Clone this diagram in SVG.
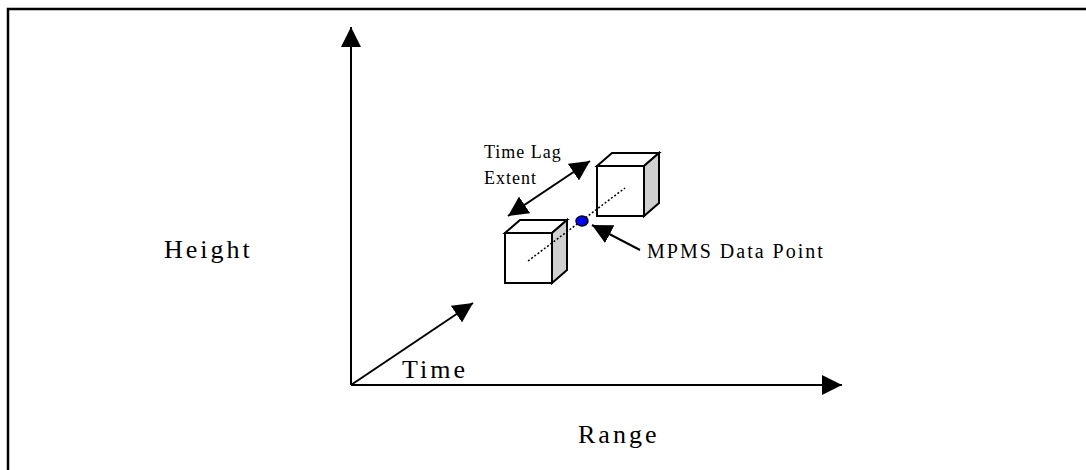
<svg xmlns="http://www.w3.org/2000/svg" width="1086" height="470" viewBox="0 0 1086 470">
<style>
.t{font-family:"Liberation Serif","Times New Roman",serif;fill:#000}
.big{font-size:26px;letter-spacing:3px}
.sm{font-size:18px;letter-spacing:1px}
.md{font-size:20px;letter-spacing:2px}
.ax{stroke:#000;stroke-width:2;fill:none}
.cube{stroke:#000;stroke-width:2;stroke-linejoin:miter}
</style>
<defs>
<marker id="ah" markerUnits="userSpaceOnUse" markerWidth="20" markerHeight="20" viewBox="0 0 20 20" refX="20" refY="10" orient="auto-start-reverse">
<path d="M0,0 L20,10 L0,20 Z" fill="#000"/>
</marker>
</defs>
<rect width="1086" height="470" fill="#fff"/>
<g id="frame">
<path d="M8,471 L8,9 L1087,9" fill="none" stroke="#000" stroke-width="2.5"/>
</g>
<g id="connectors">
<line class="ax" x1="351" y1="385" x2="351" y2="27" marker-end="url(#ah)"/>
<line class="ax" x1="351" y1="385" x2="842" y2="385" marker-end="url(#ah)"/>
<line class="ax" x1="351" y1="385" x2="473" y2="303" marker-end="url(#ah)"/>
<line class="ax" x1="508" y1="216" x2="590" y2="161" marker-start="url(#ah)" marker-end="url(#ah)"/>
<line class="ax" x1="640" y1="250" x2="592" y2="225" marker-end="url(#ah)"/>
</g>
<g id="cube1">
<polygon class="cube" points="505,233 520,220 567,220 552,233" fill="#fff"/>
<polygon class="cube" points="552,233 567,220 567,270 552,283" fill="#d0d0d0"/>
<rect class="cube" x="505" y="233" width="47" height="50" fill="#fff"/>
</g>
<g id="cube2">
<polygon class="cube" points="597,166 612,153 659,153 644,166" fill="#fff"/>
<polygon class="cube" points="644,166 659,153 659,203 644,216" fill="#d0d0d0"/>
<rect class="cube" x="597" y="166" width="47" height="50" fill="#fff"/>
</g>
<g id="trajectory">
<line x1="528" y1="261" x2="625" y2="188" stroke="#000" stroke-width="1.5" stroke-dasharray="2,2"/>
</g>
<g id="datapoint">
<ellipse cx="582" cy="221" rx="6" ry="5" fill="#0000ff" stroke="#000" stroke-width="1.5"/>
</g>
<g id="labels">
<text class="t big" x="164" y="258">Height</text>
<text class="t big" x="402" y="378">Time</text>
<text class="t big" x="578" y="443">Range</text>
<text class="t sm" x="484" y="158">Time Lag</text>
<text class="t sm" x="484" y="184">Extent</text>
<text class="t md" x="647" y="258">MPMS Data Point</text>
</g>
</svg>
